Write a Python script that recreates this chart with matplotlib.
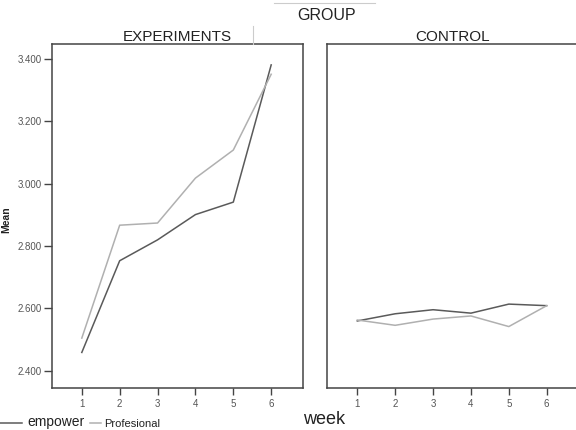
import numpy as np
import matplotlib
matplotlib.use('Agg')
import matplotlib.pyplot as plt
from matplotlib.lines import Line2D

plt.rcParams['font.family'] = ['Liberation Sans', 'DejaVu Sans']

# data -------------------------------------
weeks = [1, 2, 3, 4, 5, 6]
groups = ['EXPERIMENTS', 'CONTROL']
empower = {'EXPERIMENTS': [2.459, 2.753, 2.820, 2.901, 2.941, 3.381],
           'CONTROL': [2.560, 2.583, 2.596, 2.585, 2.614, 2.609]}
profesional = {'EXPERIMENTS': [2.505, 2.867, 2.874, 3.018, 3.108, 3.351],
               'CONTROL': [2.563, 2.546, 2.566, 2.576, 2.542, 2.609]}
yticks = [2.4, 2.6, 2.8, 3.0, 3.2, 3.4]

c_emp = '#5a5a5a'
c_pro = '#b0b0b0'
c_axis = '#444444'

fig = plt.figure(figsize=(5.76, 4.30), dpi=100)
W, H = 576.0, 430.0

lefts = [51.5, 327.0]
for i, g in enumerate(groups):
    ax = fig.add_axes([lefts[i] / W, 1 - 388 / H, 251.5 / W, (388 - 44) / H])
    ax.plot(weeks, empower[g], color=c_emp, lw=1.1)
    ax.plot(weeks, profesional[g], color=c_pro, lw=1.1)
    ax.set_xlim(0.2, 6.84)
    ax.set_ylim(2.345, 3.448)
    ax.set_xticks(weeks)
    ax.set_xticklabels([str(w) for w in weeks], fontsize=7, color='#555555')
    ax.tick_params(axis='x', direction='out', length=5, width=1, color=c_axis, pad=3)
    if i == 0:
        ax.set_yticks(yticks)
        ax.set_yticklabels(['{:.3f}'.format(v) for v in yticks], fontsize=7, color='#555555')
        ax.tick_params(axis='y', direction='out', length=6, width=1, color=c_axis, pad=1)
    else:
        ax.set_yticks([])
    for s in ax.spines.values():
        s.set_color(c_axis)
        s.set_linewidth(1.1)
    ax.set_title(g, fontsize=11, color='#222222', pad=2)

# header and axis texts
fig.text(327 / W, 1 - 15 / H, 'GROUP', fontsize=11.5, color='#222222', ha='center', va='center')
fig.add_artist(Line2D([274 / W, 375 / W], [1 - 3 / H, 1 - 3 / H], color='#cccccc', lw=0.8))
fig.add_artist(Line2D([252.5 / W, 252.5 / W], [1 - 26 / H, 1 - 44 / H], color='#cccccc', lw=0.8))
fig.text(6 / W, 1 - 220 / H, 'Mean', fontsize=7.5, fontweight='bold', rotation=90,
         ha='center', va='center', color='#222222')
fig.text(324 / W, 1 - 420 / H, 'week', fontsize=13, color='#222222', ha='center', va='center')

# legend
fig.add_artist(Line2D([0, 22 / W], [1 - 423 / H, 1 - 423 / H], color=c_emp, lw=1.1))
fig.text(27 / W, 1 - 422 / H, 'empower', fontsize=10, color='#222222', va='center')
fig.add_artist(Line2D([90 / W, 101 / W], [1 - 423 / H, 1 - 423 / H], color=c_pro, lw=1.1))
fig.text(104 / W, 1 - 424 / H, 'Profesional', fontsize=8, color='#222222', va='center')

fig.savefig('out.png', dpi=100)
